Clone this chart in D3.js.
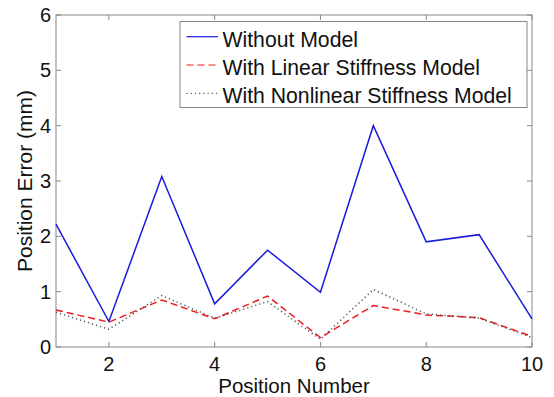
<!DOCTYPE html>
<html><head><meta charset="utf-8">
<script src="https://cdn.jsdelivr.net/npm/d3@7"></script>
<style>body{margin:0;background:#fff}svg{display:block}</style>
</head><body>
<svg id="c" width="554" height="397"></svg>
<script>
const positions = [1,2,3,4,5,6,7,8,9,10];
const withoutModel = [2.22,0.46,3.08,0.78,1.75,0.99,4.0,1.90,2.03,0.51];
const linearModel = [0.67,0.45,0.85,0.51,0.92,0.17,0.75,0.58,0.53,0.19];
const nonlinearModel = [0.63,0.32,0.93,0.52,0.82,0.14,1.04,0.60,0.52,0.17];
const xTicks = [2,4,6,8,10];
const yTicks = [0,1,2,3,4,5,6];
const seriesNames = ["Without Model","With Linear Stiffness Model","With Nonlinear Stiffness Model"];

const svg = d3.select("#c");
const L=56,R=532,T=15,B=347;
const x = d3.scaleLinear().domain([1,10]).range([L,R]);
const y = d3.scaleLinear().domain([0,6]).range([B,T]);
const font = "Liberation Sans, Arial, sans-serif";
const axisCol = "#888";

// frame
svg.append("rect").attr("x",L).attr("y",T).attr("width",R-L).attr("height",B-T)
  .attr("fill","none").attr("stroke",axisCol).attr("stroke-width",1);

// ticks (inward) on all four sides
const tl=5;
xTicks.forEach(t=>{
  svg.append("line").attr("x1",x(t)).attr("x2",x(t)).attr("y1",B).attr("y2",B-tl).attr("stroke",axisCol);
  svg.append("line").attr("x1",x(t)).attr("x2",x(t)).attr("y1",T).attr("y2",T+tl).attr("stroke",axisCol);
});
yTicks.forEach(t=>{
  svg.append("line").attr("x1",L).attr("x2",L+tl).attr("y1",y(t)).attr("y2",y(t)).attr("stroke",axisCol);
  svg.append("line").attr("x1",R).attr("x2",R-tl).attr("y1",y(t)).attr("y2",y(t)).attr("stroke",axisCol);
});

// tick labels
svg.append("g").selectAll("text").data(xTicks).join("text")
  .attr("x",d=>x(d)).attr("y",B+23.5).attr("text-anchor","middle")
  .attr("font-family",font).attr("font-size",20).attr("fill","#111").text(d=>d);
svg.append("g").selectAll("text").data(yTicks).join("text")
  .attr("x",L-5).attr("y",d=>y(d)+7).attr("text-anchor","end")
  .attr("font-family",font).attr("font-size",20).attr("fill","#111").text(d=>d);

// axis labels
svg.append("text").attr("x",(L+R)/2).attr("y",B+45.5).attr("text-anchor","middle")
  .attr("font-family",font).attr("font-size",20.5).attr("fill","#111").text("Position Number");
svg.append("text").attr("transform",`translate(31.5,${(T+B)/2}) rotate(-90)`).attr("text-anchor","middle")
  .attr("font-family",font).attr("font-size",21).attr("fill","#111").text("Position Error (mm)");

const line = d3.line().x((d,i)=>x(positions[i])).y(d=>y(d));
const styles = [
  {data:withoutModel, stroke:"#1a1adf", dash:null, w:1.5},
  {data:linearModel, stroke:"#ee1c1c", dash:"7,4", w:1.5},
  {data:nonlinearModel, stroke:"#555", dash:"1.2,3", w:1.5}
];
styles.forEach(s=>{
  svg.append("path").attr("d",line(s.data)).attr("fill","none")
    .attr("stroke",s.stroke).attr("stroke-width",s.w).attr("stroke-dasharray",s.dash);
});

// legend
const lg = svg.append("g");
lg.append("rect").attr("x",180).attr("y",21.5).attr("width",347).attr("height",86)
  .attr("fill","#fff").attr("stroke",axisCol);
seriesNames.forEach((n,i)=>{
  const base = 46.7+i*28.3;
  const yy = base-10;
  lg.append("line").attr("x1",186.5).attr("x2",218).attr("y1",yy).attr("y2",yy)
    .attr("stroke",styles[i].stroke).attr("stroke-width",1.2).attr("stroke-dasharray",styles[i].dash);
  lg.append("text").attr("x",222.5).attr("y",base).attr("font-family",font).attr("font-size",21.2)
    .attr("fill","#111").text(n);
});
</script>
</body></html>
